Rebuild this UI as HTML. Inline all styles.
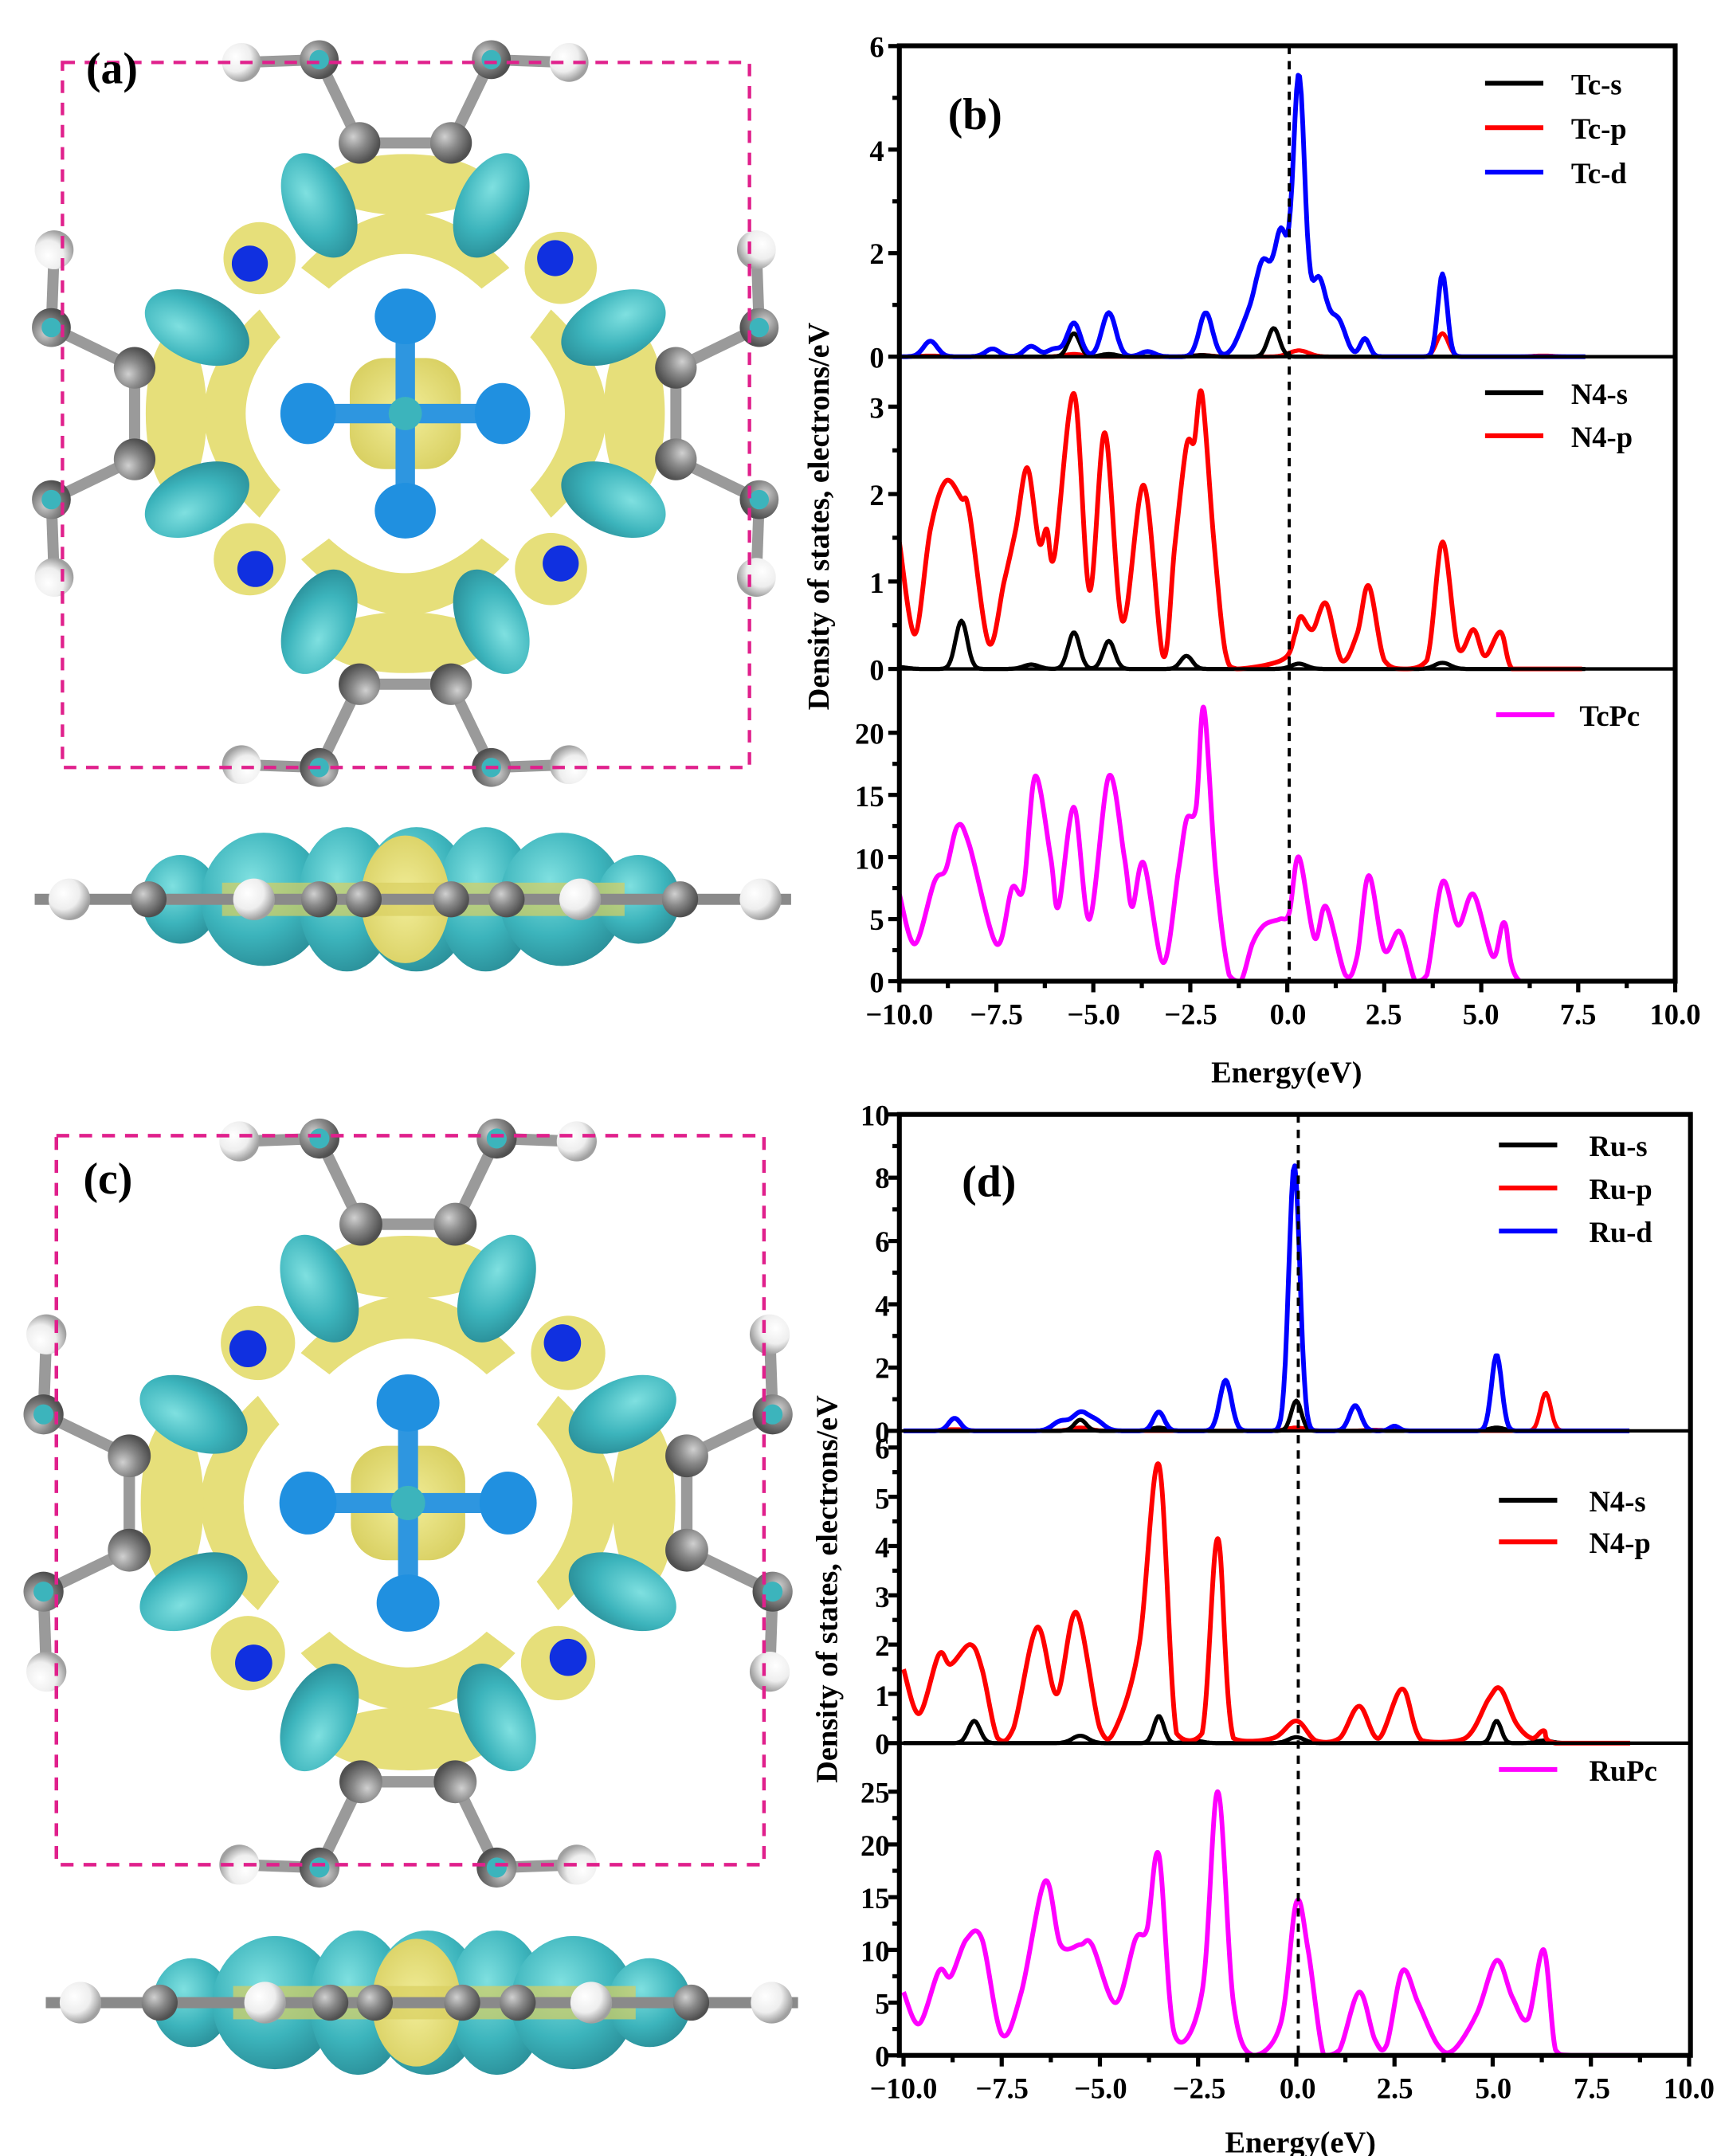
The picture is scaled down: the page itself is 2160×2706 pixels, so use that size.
<!DOCTYPE html>
<html><head><meta charset="utf-8"><style>
html,body{margin:0;padding:0;background:#fff;}
svg{display:block}
text{font-family:"Liberation Serif",serif;font-weight:bold;fill:#000}
</style></head><body>
<svg id="s" width="2160" height="2706" viewBox="0 0 1240 1553.5" preserveAspectRatio="none" xmlns="http://www.w3.org/2000/svg">
<defs>
<radialGradient id="gg" cx="35%" cy="35%" r="65%"><stop offset="0" stop-color="#d0d0d0"/><stop offset="0.5" stop-color="#8a8a8a"/><stop offset="1" stop-color="#505050"/></radialGradient>
<radialGradient id="gw" cx="35%" cy="35%" r="65%"><stop offset="0" stop-color="#ffffff"/><stop offset="0.6" stop-color="#eeeeee"/><stop offset="1" stop-color="#a0a0a0"/></radialGradient>
<radialGradient id="gc" cx="40%" cy="35%" r="70%"><stop offset="0" stop-color="#7fe0e0"/><stop offset="0.6" stop-color="#3cb4bc"/><stop offset="1" stop-color="#2a8e98"/></radialGradient>
<radialGradient id="gy" cx="50%" cy="50%" r="60%"><stop offset="0" stop-color="#f2ee9a"/><stop offset="1" stop-color="#d8cf60"/></radialGradient>
</defs>
<g id="mol"></g>
<g id="plots"></g>
<text x="62" y="60" font-size="32">(a)</text>
<text x="60" y="860" font-size="32">(c)</text>
<text x="683" y="93" font-size="32">(b)</text>
<text x="693" y="862" font-size="32">(d)</text>
<g font-size="21" text-anchor="end">
<text x="637" y="41">6</text><text x="637" y="116">4</text><text x="637" y="190">2</text><text x="637" y="265">0</text>
<text x="637" y="301">3</text><text x="637" y="364">2</text><text x="637" y="427">1</text><text x="637" y="490">0</text>
<text x="637" y="536">20</text><text x="637" y="581">15</text><text x="637" y="626">10</text><text x="637" y="670">5</text><text x="637" y="715">0</text>
</g>
<g font-size="21" text-anchor="middle">
<text x="648" y="738">−10.0</text><text x="718" y="738">−7.5</text><text x="788" y="738">−5.0</text><text x="858" y="738">−2.5</text><text x="928" y="738">0.0</text><text x="997" y="738">2.5</text><text x="1067" y="738">5.0</text><text x="1137" y="738">7.5</text><text x="1207" y="738">10.0</text>
</g>
<text x="927" y="780" font-size="22" text-anchor="middle">Energy(eV)</text>
<text transform="translate(597,372) rotate(-90)" font-size="22" text-anchor="middle">Density of states, electrons/eV</text>
<g font-size="21">
<text x="1132" y="68">Tc-s</text><text x="1132" y="100">Tc-p</text><text x="1132" y="132">Tc-d</text>
<text x="1132" y="291">N4-s</text><text x="1132" y="322">N4-p</text>
<text x="1138" y="523">TcPc</text>
</g>
<g font-size="21" text-anchor="end">
<text x="641" y="811">10</text><text x="641" y="856">8</text><text x="641" y="902">6</text><text x="641" y="948">4</text><text x="641" y="993">2</text><text x="641" y="1039">0</text>
<text x="641" y="1051">6</text><text x="641" y="1087">5</text><text x="641" y="1122">4</text><text x="641" y="1158">3</text><text x="641" y="1193">2</text><text x="641" y="1229">1</text><text x="641" y="1264">0</text>
<text x="641" y="1299">25</text><text x="641" y="1337">20</text><text x="641" y="1375">15</text><text x="641" y="1413">10</text><text x="641" y="1451">5</text><text x="641" y="1489">0</text>
</g>
<g font-size="21" text-anchor="middle">
<text x="651" y="1512">−10.0</text><text x="722" y="1512">−7.5</text><text x="793" y="1512">−5.0</text><text x="864" y="1512">−2.5</text><text x="935" y="1512">0.0</text><text x="1005" y="1512">2.5</text><text x="1076" y="1512">5.0</text><text x="1147" y="1512">7.5</text><text x="1217" y="1512">10.0</text>
</g>
<text x="937" y="1551" font-size="22" text-anchor="middle">Energy(eV)</text>
<text transform="translate(603,1145) rotate(-90)" font-size="22" text-anchor="middle">Density of states, electrons/eV</text>
<g font-size="21">
<text x="1145" y="833">Ru-s</text><text x="1145" y="864">Ru-p</text><text x="1145" y="895">Ru-d</text>
<text x="1145" y="1089">N4-s</text><text x="1145" y="1119">N4-p</text>
<text x="1145" y="1283">RuPc</text>
</g>
</svg>
<script>
const NS="http://www.w3.org/2000/svg";
function el(p,t,a){const e=document.createElementNS(NS,t);for(const k in a)e.setAttribute(k,a[k]);p.appendChild(e);return e;}
const P=document.getElementById("plots");
function spline(pts,base){const cl=y=>Math.min(y,base);let d="M"+pts[0][0].toFixed(1)+","+pts[0][1].toFixed(1);
 for(let i=0;i<pts.length-1;i++){const p0=pts[Math.max(i-1,0)],p1=pts[i],p2=pts[i+1],p3=pts[Math.min(i+2,pts.length-1)];
 const c1=[p1[0]+(p2[0]-p0[0])/6,cl(p1[1]+(p2[1]-p0[1])/6)],c2=[p2[0]-(p3[0]-p1[0])/6,cl(p2[1]-(p3[1]-p1[1])/6)];
 d+="C"+c1[0].toFixed(1)+","+c1[1].toFixed(1)+" "+c2[0].toFixed(1)+","+c2[1].toFixed(1)+" "+p2[0].toFixed(1)+","+p2[1].toFixed(1);}
 return d;}
function gauss(peaks,x0,x1,sig){const pts=[];for(let x=x0;x<=x1+1e-9;x+=0.04){let y=0;for(const p of peaks){const s=p[2]||sig;y+=p[1]*Math.exp(-(x-p[0])*(x-p[0])/(2*s*s));}pts.push([x,y]);}return pts;}
function curve(ax,data,color,w,isGauss,sig,x1){
 let pts=isGauss?gauss(data,-10,x1||7.7,sig):data;
 const mp=pts.map(p=>[ax.X(p[0]),ax.Y(p[1])]);
 el(P,"path",{d:isGauss?("M"+mp.map(p=>p[0].toFixed(1)+","+p[1].toFixed(1)).join("L")):spline(mp,ax.Y(0)),fill:"none",stroke:color,"stroke-width":w||3.2,"stroke-linejoin":"round"});}
function frame(L,R,T,B,divs,x0){
 el(P,"rect",{x:L,y:T,width:R-L,height:B-T,fill:"none",stroke:"#000","stroke-width":3.5});
 for(const d of divs)el(P,"line",{x1:L,x2:R,y1:d,y2:d,stroke:"#000","stroke-width":2.5});
 el(P,"line",{x1:x0,x2:x0,y1:T,y2:B,stroke:"#000","stroke-width":2.2,"stroke-dasharray":"6,5"});
}
function ticksY(L,pairs){for(const [y,maj] of pairs)el(P,"line",{x1:L-(maj?8:5),x2:L,y1:y,y2:y,stroke:"#000","stroke-width":3});}
function ticksX(L,R,B){for(let i=0;i<=16;i++){const x=L+(R-L)*i/16;el(P,"line",{x1:x,x2:x,y1:B,y2:B+(i%2?5:8),stroke:"#000","stroke-width":3});}}
function legline(x,y,c){el(P,"line",{x1:x,x2:x+42,y1:y,y2:y,stroke:c,"stroke-width":3.5});}
{const L=648,R=1207,X=e=>L+(e+10)*(R-L)/20;
 const top={X,Y:v=>257-v*37.3},mid={X,Y:v=>482-v*63},bot={X,Y:v=>707-v*8.95};
 curve(top,[[-9.2,0.02],[-5.5,0.05],[-2.2,0.03],[0.3,0.12],[4.0,0.45,0.15],[6.6,0.02]],"#ff0000",3,true,0.25);
 curve(top,[[-5.5,0.45,0.15],[-0.35,0.55,0.15],[-2.2,0.03],[-4.6,0.05]],"#000",3,true,0.2);
 curve(top,[[-9.2,0.3],[-7.6,0.15],[-6.6,0.2],[-6.0,0.15],[-5.5,0.65,0.17],[-4.6,0.85,0.18],[-3.6,0.1],[-2.1,0.85,0.17],[-1.0,0.7,0.25],[-0.6,1.6,0.2],[-0.15,2.3,0.18],[0.3,5.3,0.15],[0.8,1.5,0.2],[1.3,0.7,0.2],[2.0,0.35,0.12],[4.0,1.6,0.12]],"#0000ff",3.4,true,0.18);
 curve(mid,[[-10,0.02],[-8.4,0.55,0.15],[-6.6,0.05],[-5.5,0.42,0.15],[-4.6,0.32,0.15],[-2.6,0.15,0.15],[0.3,0.06],[4,0.07],[7.5,0]],"#000",3,true,0.2);
 curve(mid,[[-10,1.45],[-9.6,0.4],[-9.2,1.6],[-8.8,2.15],[-8.4,1.95],[-8.2,1.8],[-7.7,0.3],[-7.3,1.0],[-7.0,1.6],[-6.7,2.3],[-6.4,1.45],[-6.2,1.6],[-6.0,1.3],[-5.5,3.15],[-5.1,0.9],[-4.7,2.7],[-4.25,0.55],[-3.7,2.1],[-3.2,0.15],[-2.9,1.4],[-2.6,2.55],[-2.4,2.6],[-2.2,3.15],[-1.9,1.5],[-1.6,0.2],[-1.3,0],[-0.5,0.05],[0,0.15],[0.2,0.4],[0.35,0.6],[0.65,0.45],[1.0,0.75],[1.4,0.1],[1.8,0.4],[2.1,0.95],[2.5,0.1],[3.0,0.0],[3.6,0.1],[4.0,1.45],[4.4,0.25],[4.8,0.45],[5.1,0.15],[5.5,0.42],[5.8,0.0],[6.5,0],[7.6,0]],"#ff0000",3.4);
 curve(bot,[[-10,7],[-9.6,3],[-9.1,8],[-8.8,9],[-8.5,12.5],[-8.2,11],[-7.5,3],[-7.1,7.5],[-6.8,7.5],[-6.5,16.5],[-6.1,10],[-5.9,6],[-5.5,14],[-5.1,5],[-4.6,16.5],[-4.2,10],[-4.0,6],[-3.7,9.5],[-3.2,1.5],[-2.8,9],[-2.6,13],[-2.35,14],[-2.15,22],[-1.85,9],[-1.5,0.5],[-1.2,0],[-0.9,3],[-0.6,4.5],[-0.2,5],[0.05,5.5],[0.3,10],[0.7,3.5],[1.0,6],[1.5,0.5],[1.8,2],[2.1,8.5],[2.5,2.5],[2.9,4],[3.3,0],[3.6,0.5],[4.0,8],[4.4,4.5],[4.8,7],[5.3,2],[5.6,4.7],[6.0,0],[7.7,0]],"#ff00ff",3.4);
 frame(L,R,33,707,[257,482],X(0.05));
 const ty=[];for(let v=0;v<=6;v+=1)ty.push([257-v*37.3,v%2==0]);
 for(let v=0;v<=3;v+=0.5)ty.push([482-v*63,v%1==0]);
 for(let v=0;v<=20;v+=2.5)ty.push([707-v*8.95,v%5==0]);
 ticksY(L,ty);ticksX(L,R,707);
 legline(1070,60,"#000");legline(1070,92,"#ff0000");legline(1070,124,"#0000ff");
 legline(1070,283,"#000");legline(1070,314,"#ff0000");legline(1078,515,"#ff00ff");
}
{const L=651,R=1217,X=e=>L+(e+10)*(R-L)/20;
 const top={X,Y:v=>1031-v*22.8},mid={X,Y:v=>1256-v*35.5},bot={X,Y:v=>1481-v*7.6};
 curve(top,[[-8.7,0.05],[-5.5,0.1],[0,0.1],[6.35,1.2,0.13],[2,0.03]],"#ff0000",3,true,0.25,8.5);
 curve(top,[[-5.5,0.35,0.15],[0,0.95,0.13],[-3.5,0.1],[5.1,0.1]],"#000",3,true,0.2,8.5);
 curve(top,[[-8.7,0.4,0.15],[-6.0,0.3],[-5.5,0.55],[-5.1,0.3],[-3.5,0.6,0.14],[-1.8,1.6,0.15],[-0.05,8.4,0.14],[1.5,0.8,0.15],[2.5,0.15,0.12],[5.1,2.4,0.13]],"#0000ff",3.4,true,0.2,8.5);
 curve(mid,[[-8.2,0.45,0.15],[-5.5,0.15],[-3.5,0.55,0.13],[-2.6,0.05],[0,0.12],[5.1,0.45,0.12],[6.3,0.05]],"#000",3,true,0.2,8.5);
 curve(mid,[[-10,1.5],[-9.6,0.6],[-9.1,1.8],[-8.8,1.6],[-8.3,2.0],[-8.0,1.5],[-7.6,0.1],[-7.2,0.3],[-6.6,2.35],[-6.1,1.0],[-5.6,2.65],[-5.0,0.3],[-4.6,0.3],[-4.0,2.0],[-3.5,5.65],[-3.05,0.2],[-2.4,0.2],[-2.0,4.15],[-1.6,0.1],[-0.6,0.1],[0,0.45],[0.5,0.05],[1.1,0.1],[1.6,0.75],[2.1,0.1],[2.7,1.1],[3.2,0.05],[4.3,0.1],[4.9,0.9],[5.2,1.1],[5.6,0.4],[6.0,0.1],[6.3,0.25],[6.6,0],[8.5,0]],"#ff0000",3.4);
 curve(bot,[[-10,6],[-9.6,3],[-9.1,8],[-8.8,7.5],[-8.4,11],[-8.0,11],[-7.5,2],[-7.0,6],[-6.4,16.5],[-6.0,10.5],[-5.5,10.5],[-5.2,10.5],[-4.6,5],[-4.1,11],[-3.8,12],[-3.5,19],[-3.1,2],[-2.4,6],[-2.0,25],[-1.6,5],[-1.1,0],[-0.4,3],[0,14.5],[0.3,10],[0.7,0],[1.1,0.5],[1.6,6],[2.0,1.5],[2.3,1],[2.7,8],[3.1,5],[3.6,1],[4.0,0.5],[4.6,4],[5.1,9],[5.5,5.5],[5.9,3.5],[6.3,10],[6.6,0.5],[7.0,0],[8.5,0]],"#ff00ff",3.4);
 frame(648,1218,803,1481,[1031,1256],X(0.05));
 const ty=[];for(let v=0;v<=10;v+=1)ty.push([1031-v*22.8,v%2==0]);
 for(let v=0;v<=6;v+=0.5)ty.push([1256-v*35.5,v%1==0]);
 for(let v=0;v<=25;v+=2.5)ty.push([1481-v*7.6,v%5==0]);
 ticksY(648,ty);ticksX(L,R,1481);
 legline(1080,825,"#000");legline(1080,856,"#ff0000");legline(1080,887,"#0000ff");
 legline(1080,1081,"#000");legline(1080,1111,"#ff0000");legline(1080,1275,"#ff00ff");
}
const M=document.getElementById("mol");
function mol(cx,cy,s,rect){
 const g=el(M,"g",{transform:`translate(${cx},${cy}) scale(${s})`});
 for(const r of[0,90,180,270]){const gg=el(g,"g",{transform:`rotate(${r})`});
  const B=(a,b)=>el(gg,"line",{x1:a[0],y1:a[1],x2:b[0],y2:b[1],stroke:"#9a9a9a","stroke-width":8});
  B([-33,-195],[33,-195]);B([-33,-195],[-62,-255]);B([33,-195],[62,-255]);B([-62,-255],[-118,-253]);B([62,-255],[118,-253]);
 }
 el(g,"rect",{x:-40,y:-40,width:80,height:80,rx:25,fill:"url(#gy)"});
 for(const r of[0,90,180,270]){const gg=el(g,"g",{transform:`rotate(${r})`});
  el(gg,"path",{d:"M-75,-105 Q0,-185 75,-105 L55,-90 Q0,-140 -55,-90Z",fill:"#e6df7a"});
  el(gg,"ellipse",{cx:0,cy:-165,rx:60,ry:22,fill:"#e6df7a"});
  el(gg,"ellipse",{cx:-105,cy:-112,rx:26,ry:26,fill:"#e6df7a"});
 }
 for(const r of[0,90,180,270]){const gg=el(g,"g",{transform:`rotate(${r})`});
  el(gg,"ellipse",{cx:-62,cy:-150,rx:24,ry:40,fill:"url(#gc)",transform:"rotate(-25 -62 -150)"});
  el(gg,"ellipse",{cx:62,cy:-150,rx:24,ry:40,fill:"url(#gc)",transform:"rotate(25 62 -150)"});
  el(gg,"rect",{x:-7,y:-85,width:14,height:85,fill:"#2e96e0"});
  el(gg,"ellipse",{cx:0,cy:-70,rx:22,ry:20,fill:"#2090e0"});
  el(gg,"circle",{cx:108,cy:-112,r:13,fill:"#1030e0"});
 }
 el(g,"circle",{cx:0,cy:0,r:12,fill:"#3cb4bc"});
 for(const r of[0,90,180,270]){const gg=el(g,"g",{transform:`rotate(${r})`});
  for(const sx of[1,-1]){
   el(gg,"circle",{cx:33*sx,cy:-195,r:15,fill:"url(#gg)"});
   el(gg,"circle",{cx:62*sx,cy:-255,r:14,fill:"url(#gg)"});
   el(gg,"circle",{cx:62*sx,cy:-255,r:7,fill:"#3cb4bc"});
   el(gg,"circle",{cx:118*sx,cy:-253,r:14,fill:"url(#gw)"});
  }}
 el(g,"rect",{x:rect[0],y:rect[1],width:rect[2],height:rect[3],fill:"none",stroke:"#e0208c","stroke-width":2.5,"stroke-dasharray":"9,7"});
}
mol(292,298,1,[-247,-253,495,508]);
mol(294,1083,1.03,[-246,-257,495,510]);
function side(cy,x0,x1){
 const g=el(M,"g",{});
 const lobes=[[130,0,28,32],[190,0,45,48],[250,0,35,52],[300,0,40,52],[350,0,35,52],[405,0,45,48],[460,0,30,32]];
 for(const l of lobes)el(g,"ellipse",{cx:l[0]+x0-25,cy:cy+l[1],rx:l[2],ry:l[3],fill:"url(#gc)"});
 el(g,"ellipse",{cx:292+x0-25,cy:cy,rx:32,ry:46,fill:"url(#gy)"});
 el(g,"rect",{x:160+x0-25,y:cy-12,width:290,height:24,fill:"#d8cf60",opacity:0.7});
 el(g,"rect",{x:x0,y:cy-4,width:x1-x0,height:8,fill:"#8a8a8a"});
 for(const x of[107,230,262,325,365,490])el(g,"circle",{cx:x+x0-25,cy:cy,r:13,fill:"url(#gg)"});
 for(const x of[50,183,418,548])el(g,"circle",{cx:x+x0-25,cy:cy,r:15,fill:"url(#gw)"});
}
side(648,25,570);
side(1443,33,575);
</script>
</body></html>
